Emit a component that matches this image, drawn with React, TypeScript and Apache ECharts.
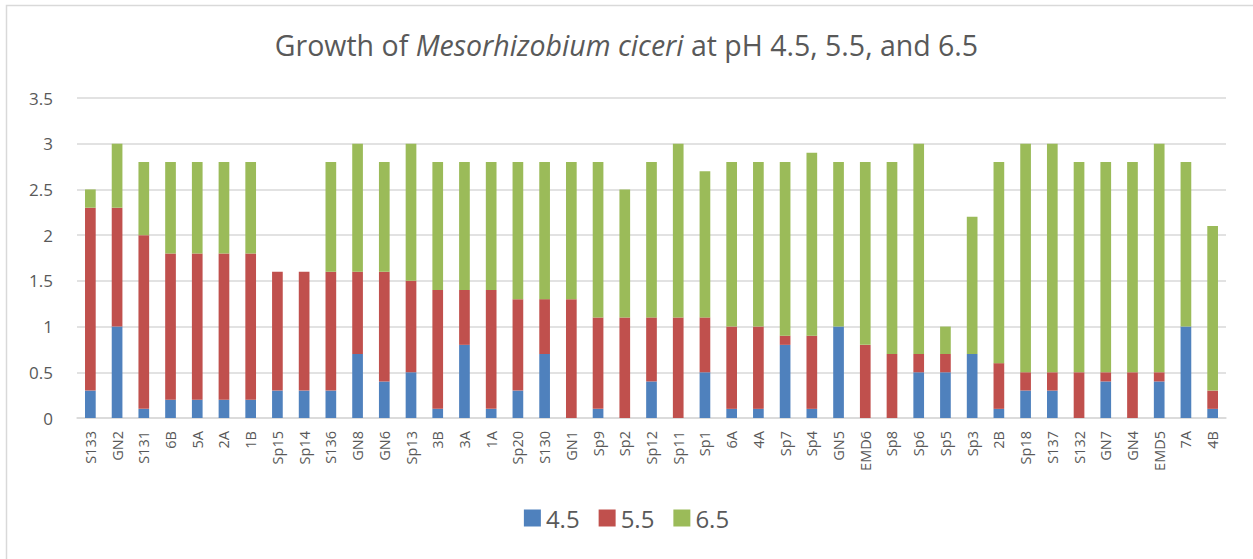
import React, { useEffect, useRef } from "react";
import * as echarts from "echarts";

const categories = ["S133","GN2","S131","6B","5A","2A","1B","Sp15","Sp14","S136","GN8","GN6","Sp13","3B","3A","1A","Sp20","S130","GN1","Sp9","Sp2","Sp12","Sp11","Sp1","6A","4A","Sp7","Sp4","GN5","EMD6","Sp8","Sp6","Sp5","Sp3","2B","Sp18","S137","S132","GN7","GN4","EMD5","7A","4B"];
const ph45 = [0.3,1.0,0.1,0.2,0.2,0.2,0.2,0.3,0.3,0.3,0.7,0.4,0.5,0.1,0.8,0.1,0.3,0.7,0,0.1,0,0.4,0,0.5,0.1,0.1,0.8,0.1,1.0,0,0,0.5,0.5,0.7,0.1,0.3,0.3,0,0.4,0,0.4,1.0,0.1];
const ph55 = [2.0,1.3,1.9,1.6,1.6,1.6,1.6,1.3,1.3,1.3,0.9,1.2,1.0,1.3,0.6,1.3,1.0,0.6,1.3,1.0,1.1,0.7,1.1,0.6,0.9,0.9,0.1,0.8,0,0.8,0.7,0.2,0.2,0,0.5,0.2,0.2,0.5,0.1,0.5,0.1,0,0.2];
const ph65 = [0.2,0.7,0.8,1.0,1.0,1.0,1.0,0,0,1.2,1.4,1.2,1.5,1.4,1.4,1.4,1.5,1.5,1.5,1.7,1.4,1.7,1.9,1.6,1.8,1.8,1.9,2.0,1.8,2.0,2.1,2.3,0.3,1.5,2.2,2.5,2.5,2.3,2.3,2.3,2.5,1.8,1.8];
const seriesNames = ["4.5","5.5","6.5"];
const colors = ["#4F81BD","#C0504D","#9BBB59"];

export default function App() {
  const ref = useRef<HTMLDivElement>(null);
  useEffect(() => {
    if (!ref.current) return;
    const chart = echarts.init(ref.current, null, { renderer: "svg" });
    const font = "'Open Sans', 'Noto Sans', sans-serif";
    const data = [ph45, ph55, ph65];
    chart.setOption({
      animation: false,
      textStyle: { fontFamily: font },
      graphic: [
        { type: "rect", shape: { x: 6.5, y: 5.5, width: 1300, height: 700 }, style: { fill: "none", stroke: "#D9D9D9", lineWidth: 1.5 }, silent: true },
      ],
      title: {
        left: "center",
        top: 25,
        text: "{a|Growth of }{b|Mesorhizobium ciceri}{a| at pH 4.5, 5.5, and 6.5}",
        textStyle: {
          fontWeight: "normal",
          rich: {
            a: { fontSize: 28.5, color: "#595959", fontFamily: font, fontWeight: "normal" },
            b: { fontSize: 28.5, color: "#595959", fontFamily: font, fontStyle: "italic", fontWeight: "normal" },
          },
        },
      },
      legend: {
        bottom: 24,
        left: "center",
        itemWidth: 17,
        itemHeight: 17,
        itemGap: 19,
        icon: "rect",
        textStyle: { fontSize: 24, color: "#595959", fontFamily: font },
        data: seriesNames,
      },
      grid: { left: 77, right: 27, top: 98, bottom: 141, containLabel: false },
      xAxis: {
        type: "category",
        data: categories,
        axisLine: { lineStyle: { color: "#D9D9D9", width: 1.5 } },
        axisTick: { show: false },
        axisLabel: { rotate: 90, interval: 0, fontSize: 14.5, color: "#595959", margin: 13, fontFamily: font },
      },
      yAxis: {
        type: "value",
        min: 0,
        max: 3.5,
        interval: 0.5,
        axisLine: { show: false },
        axisTick: { show: false },
        splitLine: { lineStyle: { color: "#D9D9D9", width: 1.5 } },
        axisLabel: { fontSize: 17, color: "#595959", margin: 24, fontFamily: font },
      },
      series: seriesNames.map((n, i) => ({
        name: n,
        type: "bar",
        stack: "total",
        barWidth: "40%",
        data: data[i],
        itemStyle: { color: colors[i] },
      })),
    });
    return () => chart.dispose();
  }, []);
  return <div ref={ref} style={{ position: "absolute", left: 0, top: 0, width: 1253, height: 559, background: "#fff" }} />;
}
